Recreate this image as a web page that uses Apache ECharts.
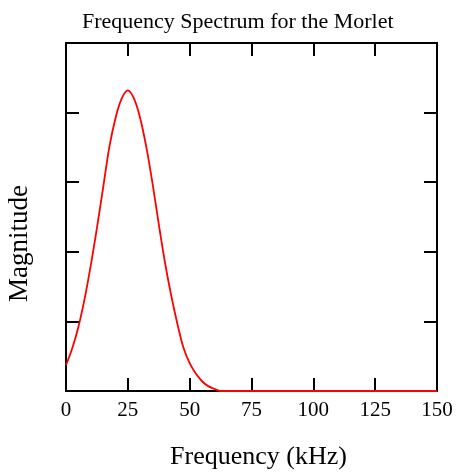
<!DOCTYPE html>
<html>
<head>
<meta charset="utf-8">
<script src="https://cdn.jsdelivr.net/npm/echarts@6/dist/echarts.min.js"></script>
<style>
  html, body { margin: 0; padding: 0; background: #fff; }
  #chart { width: 462px; height: 472px; }
</style>
</head>
<body>
<div id="chart"></div>
<script>
const freq = [0, 2.5, 5, 7.5, 10, 12.5, 15, 17.5, 20, 22.5, 25, 27.5, 30, 32.5, 35,
  37.5, 40, 42.5, 45, 47.5, 50, 52.5, 55, 57.5, 60, 62.5, 150];
const magnitude = [0.37, 0.61, 0.92, 1.32, 1.8, 2.34, 2.92, 3.5, 3.92, 4.2, 4.32, 4.2, 3.92, 3.5, 2.98,
  2.4, 1.85, 1.38, 0.97, 0.62, 0.4, 0.25, 0.14, 0.07, 0.03, 0, 0];
const xTicks = [0, 25, 50, 75, 100, 125, 150];

const chart = echarts.init(document.getElementById('chart'));

const serif = 'Liberation Serif';
const axisLine = { show: true, onZero: false, lineStyle: { color: '#000', width: 2 } };
const tick = { show: true, inside: true, length: 13, lineStyle: { color: '#000', width: 2 } };

const option = {
  animation: false,
  title: {
    text: 'Frequency Spectrum for the Morlet',
    left: 77,
    top: 6,
    textStyle: { fontFamily: serif, fontSize: 22, fontWeight: 'normal', color: '#000' }
  },
  grid: { left: 66, right: 25, top: 43, bottom: 81, outerBoundsMode: 'none' },
  xAxis: [
    {
      type: 'value', position: 'bottom', min: 0, max: 150, interval: 25,
      name: 'Frequency (kHz)', nameLocation: 'middle', nameGap: 53,
      nameTextStyle: { fontFamily: serif, fontSize: 26, color: '#000', padding: [0, 0, 0, 14] },
      axisLine, axisTick: tick, splitLine: { show: false },
      axisLabel: {
        margin: 9, fontFamily: serif, fontSize: 21, color: '#000',
        customValues: xTicks
      }
    },
    {
      type: 'value', position: 'top', min: 0, max: 150, interval: 25,
      axisLine, axisTick: tick, splitLine: { show: false }, axisLabel: { show: false }
    }
  ],
  yAxis: [
    {
      type: 'value', position: 'left', min: 0, max: 5, interval: 1,
      name: 'Magnitude', nameLocation: 'middle', nameGap: 33,
      nameTextStyle: { fontFamily: serif, fontSize: 27, color: '#000', padding: [0, 53, 0, 0] },
      axisLine, axisTick: tick, splitLine: { show: false }, axisLabel: { show: false }
    },
    {
      type: 'value', position: 'right', min: 0, max: 5, interval: 1,
      axisLine, axisTick: tick, splitLine: { show: false }, axisLabel: { show: false }
    }
  ],
  series: [
    {
      type: 'line',
      data: freq.map((f, i) => [f, magnitude[i]]),
      showSymbol: false,
      smooth: 0.3,
      lineStyle: { color: '#ff0000', width: 1.8 },
      z: 3
    }
  ]
};

chart.setOption(option);
</script>
</body>
</html>
